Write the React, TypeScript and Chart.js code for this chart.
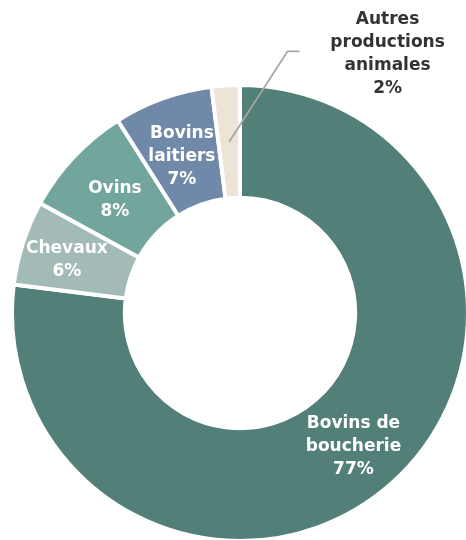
import React, { useEffect, useRef } from "react";
import { Chart, registerables } from "chart.js";

Chart.register(...registerables);

const categories = ["Bovins de boucherie", "Chevaux", "Ovins", "Bovins laitiers", "Autres productions animales"];
const labelLines = [
  ["Bovins de", "boucherie"],
  ["Chevaux"],
  ["Ovins"],
  ["Bovins", "laitiers"],
  ["Autres", "productions", "animales"],
];
const values = [77, 6, 8, 7, 2];
const colors = ["#537f79", "#a3bbb7", "#72a59c", "#7189a8", "#ede3d6"];

const FONT = "bold 17px 'DejaVu Sans', sans-serif";
const LINE_H = 23;
const TEXT_DY = 5;

const labelPlugin = {
  id: "sliceLabels",
  afterDraw(chart: any) {
    const ctx = chart.ctx;
    const meta = chart.getDatasetMeta(0);
    const data = chart.data.datasets[0].data as number[];
    const total = data.reduce((a: number, b: number) => a + b, 0);
    const shifts: Record<number, { da: number; dr: number }> = { 1: { da: 0.5, dr: 11 } };
    ctx.save();
    ctx.font = FONT;
    ctx.textAlign = "center";
    ctx.textBaseline = "middle";
    meta.data.forEach((arc: any, i: number) => {
      const p = arc.getProps(["x", "y", "startAngle", "endAngle", "innerRadius", "outerRadius"], true);
      const pct = Math.round((data[i] / total) * 100) + "%";
      const lines = [...labelLines[i], pct];
      const mid = (p.startAngle + p.endAngle) / 2;
      const rMid = (p.innerRadius + p.outerRadius) / 2;
      if (data[i] / total < 0.03) {
        const sx = p.x + Math.cos(mid) * rMid;
        const sy = p.y + Math.sin(mid) * rMid;
        const ea = mid + (13.9 * Math.PI) / 180;
        const er = p.outerRadius + 38;
        const ex = p.x + Math.cos(ea) * er;
        const ey = p.y + Math.sin(ea) * er;
        ctx.strokeStyle = "#a6a6a6";
        ctx.lineWidth = 1.8;
        ctx.beginPath();
        ctx.moveTo(sx, sy);
        ctx.lineTo(ex, ey);
        ctx.lineTo(ex + 12, ey);
        ctx.stroke();
        ctx.fillStyle = "#333333";
        const cx = ex + 100;
        const top = ey - ((lines.length - 1) * LINE_H) / 2 + TEXT_DY - 2;
        lines.forEach((l, k) => ctx.fillText(l, cx, top + k * LINE_H));
      } else {
        const s = shifts[i] || { da: 0, dr: 0 };
        const a = mid + (s.da * Math.PI) / 180;
        const r = rMid + s.dr;
        const cx = p.x + Math.cos(a) * r;
        const cy = p.y + Math.sin(a) * r;
        ctx.fillStyle = "#ffffff";
        const top = cy - ((lines.length - 1) * LINE_H) / 2 + TEXT_DY;
        lines.forEach((l, k) => ctx.fillText(l, cx, top + k * LINE_H));
      }
    });
    ctx.restore();
  },
};

export default function App() {
  const ref = useRef<HTMLCanvasElement | null>(null);
  useEffect(() => {
    if (!ref.current) return;
    const chart = new Chart(ref.current, {
      type: "doughnut",
      data: {
        labels: categories,
        datasets: [
          {
            data: values,
            backgroundColor: colors,
            borderColor: "#ffffff",
            borderWidth: 4,
            hoverOffset: 0,
          },
        ],
      },
      options: {
        responsive: true,
        maintainAspectRatio: false,
        animation: false,
        cutout: "50.5%",
        layout: { padding: { left: 10, right: 10, top: 83, bottom: 2 } },
        plugins: { legend: { display: false }, tooltip: { enabled: false } },
      },
      plugins: [labelPlugin],
    });
    return () => chart.destroy();
  }, []);
  return (
    <div style={{ position: "fixed", left: 0, top: 0, width: 466, height: 540, overflow: "hidden", background: "#fff" }}>
      <div style={{ position: "absolute", left: 0, top: 0, width: 480, height: 545 }}>
        <canvas ref={ref} />
      </div>
    </div>
  );
}
